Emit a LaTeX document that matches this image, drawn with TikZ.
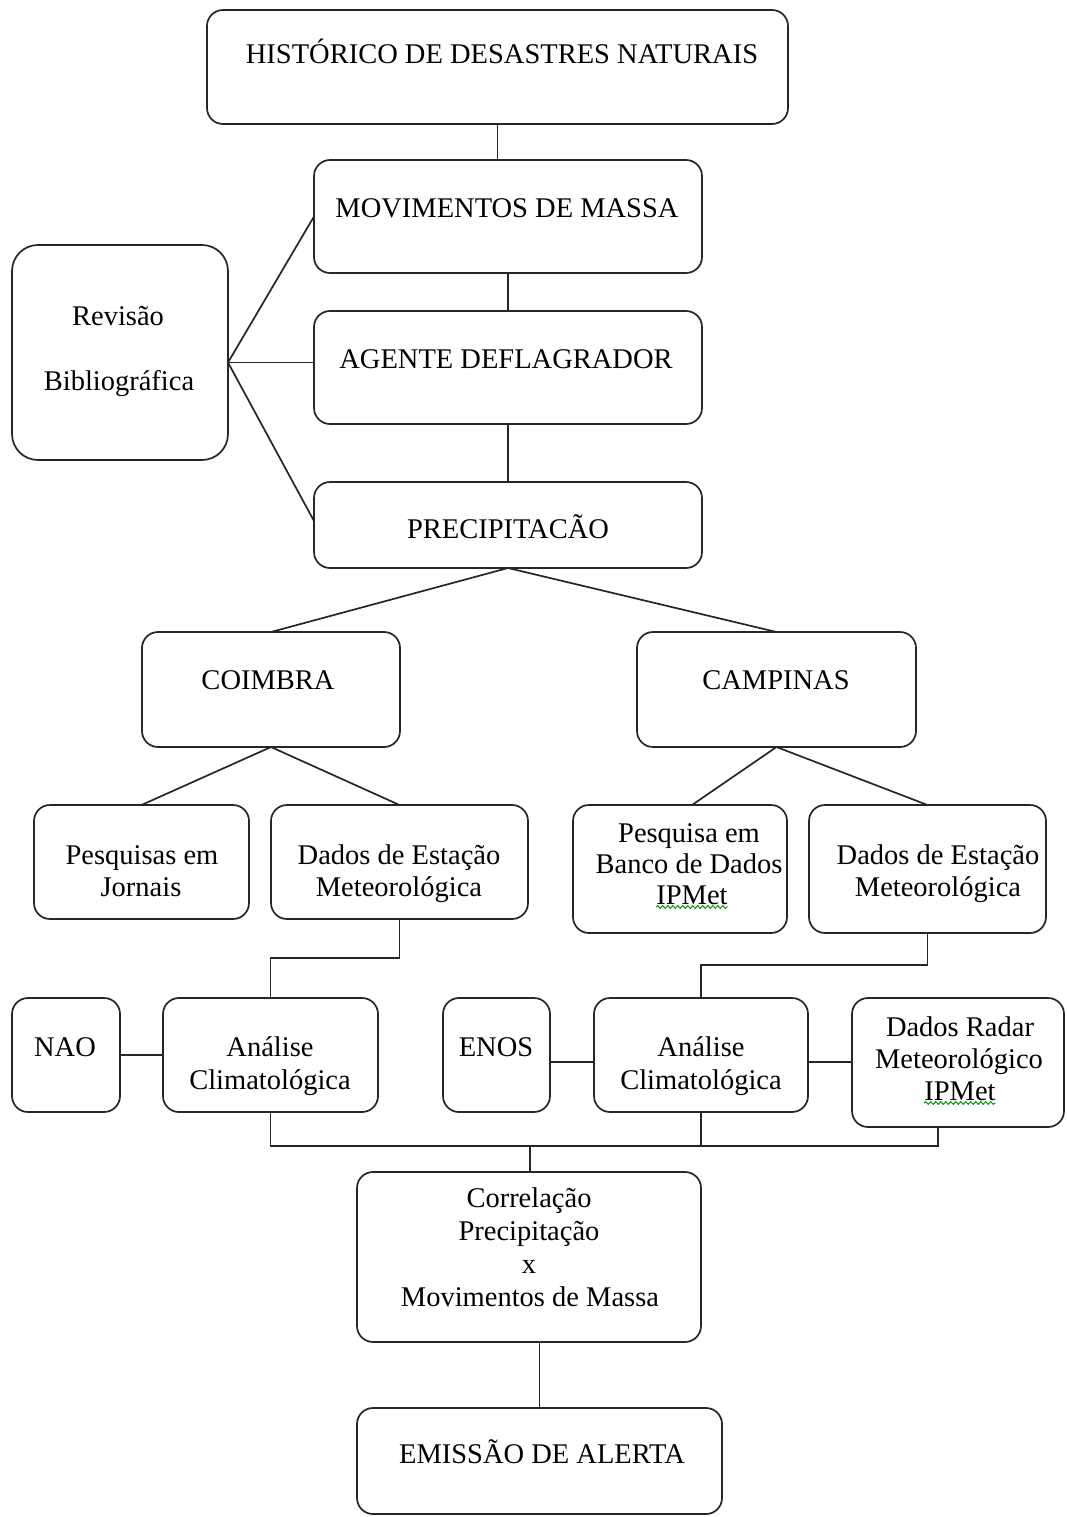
\documentclass[tikz,border=0pt]{standalone}
\usepackage{fontspec}
\setmainfont{Liberation Serif}
\usetikzlibrary{decorations.pathmorphing}
\begin{document}
\begin{tikzpicture}[x=1pt,y=-1pt,
  box/.style={draw=black!85, line width=1.7pt, rounded corners=16pt, inner sep=0pt, outer sep=0pt, fill=white},
  conn/.style={draw=black!85, line width=1.7pt},
  txt/.style={inner sep=0pt, anchor=base, font=\fontsize{28.5}{32}\selectfont},
  squig/.style={draw=green!55!black, line width=0.9pt, decorate, decoration={snake, amplitude=1.4pt, segment length=5pt}}
]
\useasboundingbox (0,0) rectangle (1067,1517);
\fill[white] (0,0) rectangle (1067,1517);

% boxes
\node[box, minimum width=581pt, minimum height=114pt] (hist) at (497.5,67) {};
\node[box, minimum width=388pt, minimum height=113pt] (mov) at (508,216.5) {};
\node[box, minimum width=388pt, minimum height=113pt] (agente) at (508,367.5) {};
\node[box, minimum width=388pt, minimum height=86pt] (prec) at (508,525) {};
\node[box, rounded corners=26pt, minimum width=216pt, minimum height=215pt] (rev) at (120,352.5) {};
\node[box, minimum width=258pt, minimum height=115pt] (coim) at (271,689.5) {};
\node[box, minimum width=279pt, minimum height=115pt] (camp) at (776.5,689.5) {};
\node[box, minimum width=215pt, minimum height=114pt] (jorn) at (141.5,862) {};
\node[box, minimum width=257pt, minimum height=114pt] (dadosC) at (399.5,862) {};
\node[box, minimum width=214pt, minimum height=128pt] (banco) at (680,869) {};
\node[box, minimum width=237pt, minimum height=128pt] (dadosP) at (927.5,869) {};
\node[box, minimum width=108pt, minimum height=114pt] (nao) at (66,1055) {};
\node[box, minimum width=215pt, minimum height=114pt] (anaC) at (270.5,1055) {};
\node[box, minimum width=107pt, minimum height=114pt] (enos) at (496.5,1055) {};
\node[box, minimum width=214pt, minimum height=114pt] (anaP) at (701,1055) {};
\node[box, minimum width=212pt, minimum height=129pt] (radar) at (958,1062.5) {};
\node[box, minimum width=344pt, minimum height=170pt] (corr) at (529,1257) {};
\node[box, minimum width=365pt, minimum height=106pt] (emis) at (539.5,1461) {};

% connectors
\draw[conn] (hist.south) -- (hist.south |- mov.north);
\draw[conn] (mov.south) -- (agente.north);
\draw[conn] (agente.south) -- (prec.north);
\coordinate (rj) at ([yshift=-10pt]rev.east);
\draw[conn] (rj) -- (mov.west);
\draw[conn] (rj) -- (rj -| agente.west);
\draw[conn] (rj) -- ([yshift=4pt]prec.west);
\draw[conn] (prec.south) -- (coim.north);
\draw[conn] (prec.south) -- (camp.north);
\draw[conn] (coim.south) -- (jorn.north);
\draw[conn] (coim.south) -- (dadosC.north);
\draw[conn] (camp.south) -- ([xshift=12pt]banco.north);
\draw[conn] (camp.south) -- (dadosP.north);
\draw[conn] (dadosC.south) -- ++(0,39) -| (anaC.north);
\draw[conn] (dadosP.south) -- ++(0,32) -| (anaP.north);
\draw[conn] (nao.east) -- (anaC.west);
\draw[conn] ([yshift=-7pt]enos.east) -- ([yshift=-7pt]anaP.west);
\draw[conn] ([yshift=0pt]anaP.east) ++(0,7) coordinate (ar) -- (ar -| radar.west);
\coordinate (j) at (530,1146);
\draw[conn] (anaC.south) |- (j);
\draw[conn] (anaP.south) |- (j);
\draw[conn] ([xshift=-20pt]radar.south) |- (j);
\draw[conn] (j) -- (j |- corr.north);
\draw[conn] (emis.north |- corr.south) -- (emis.north);

% texts
\node[txt] (hist-t) at (502,64) {HISTÓRICO DE DESASTRES NATURAIS};
\node[txt] (mov-t) at (507,218) {MOVIMENTOS DE MASSA};
\node[txt] (agente-t) at (506,368) {AGENTE DEFLAGRADOR};
\node[txt] (prec-t) at (508,538) {PRECIPITACÃO};
\node[txt] (rev-t1) at (118,325) {Revisão};
\node[txt] (rev-t2) at (119,390) {Bibliográfica};
\node[txt] (coim-t) at (268,689) {COIMBRA};
\node[txt] (camp-t) at (776,689) {CAMPINAS};
\node[txt] (jorn-t1) at (142,864) {Pesquisas em};
\node[txt] (jorn-t2) at (141,896) {Jornais};
\node[txt] (dadosC-t1) at (399,864) {Dados de Estação};
\node[txt] (dadosC-t2) at (399,896) {Meteorológica};
\node[txt] (banco-t1) at (689,842) {Pesquisa em};
\node[txt] (banco-t2) at (689,873) {Banco de Dados};
\node[txt] (banco-t3) at (692,904) {IPMet};
\node[txt] (dadosP-t1) at (938,864) {Dados de Estação};
\node[txt] (dadosP-t2) at (938,896) {Meteorológica};
\node[txt] (nao-t) at (65,1056) {NAO};
\node[txt] (anaC-t1) at (270,1056) {Análise};
\node[txt] (anaC-t2) at (270,1089) {Climatológica};
\node[txt] (enos-t) at (496,1056) {ENOS};
\node[txt] (anaP-t1) at (701,1056) {Análise};
\node[txt] (anaP-t2) at (701,1089) {Climatológica};
\node[txt] (radar-t1) at (960,1036) {Dados Radar};
\node[txt] (radar-t2) at (959,1068) {Meteorológico};
\node[txt] (radar-t3) at (960,1100) {IPMet};
\node[txt] (corr-t1) at (529,1207) {Correlação};
\node[txt] (corr-t2) at (529,1240) {Precipitação};
\node[txt] (corr-t3) at (529,1273) {x};
\node[txt] (corr-t4) at (530,1306) {Movimentos de Massa};
\node[txt] (emis-t) at (542,1463) {EMISSÃO DE ALERTA};

% spell-check squiggles
\draw[squig] ([yshift=-3pt]banco-t3.base west) -- ([yshift=-3pt]banco-t3.base east);
\draw[squig] ([yshift=-3pt]radar-t3.base west) -- ([yshift=-3pt]radar-t3.base east);
\end{tikzpicture}
\end{document}
